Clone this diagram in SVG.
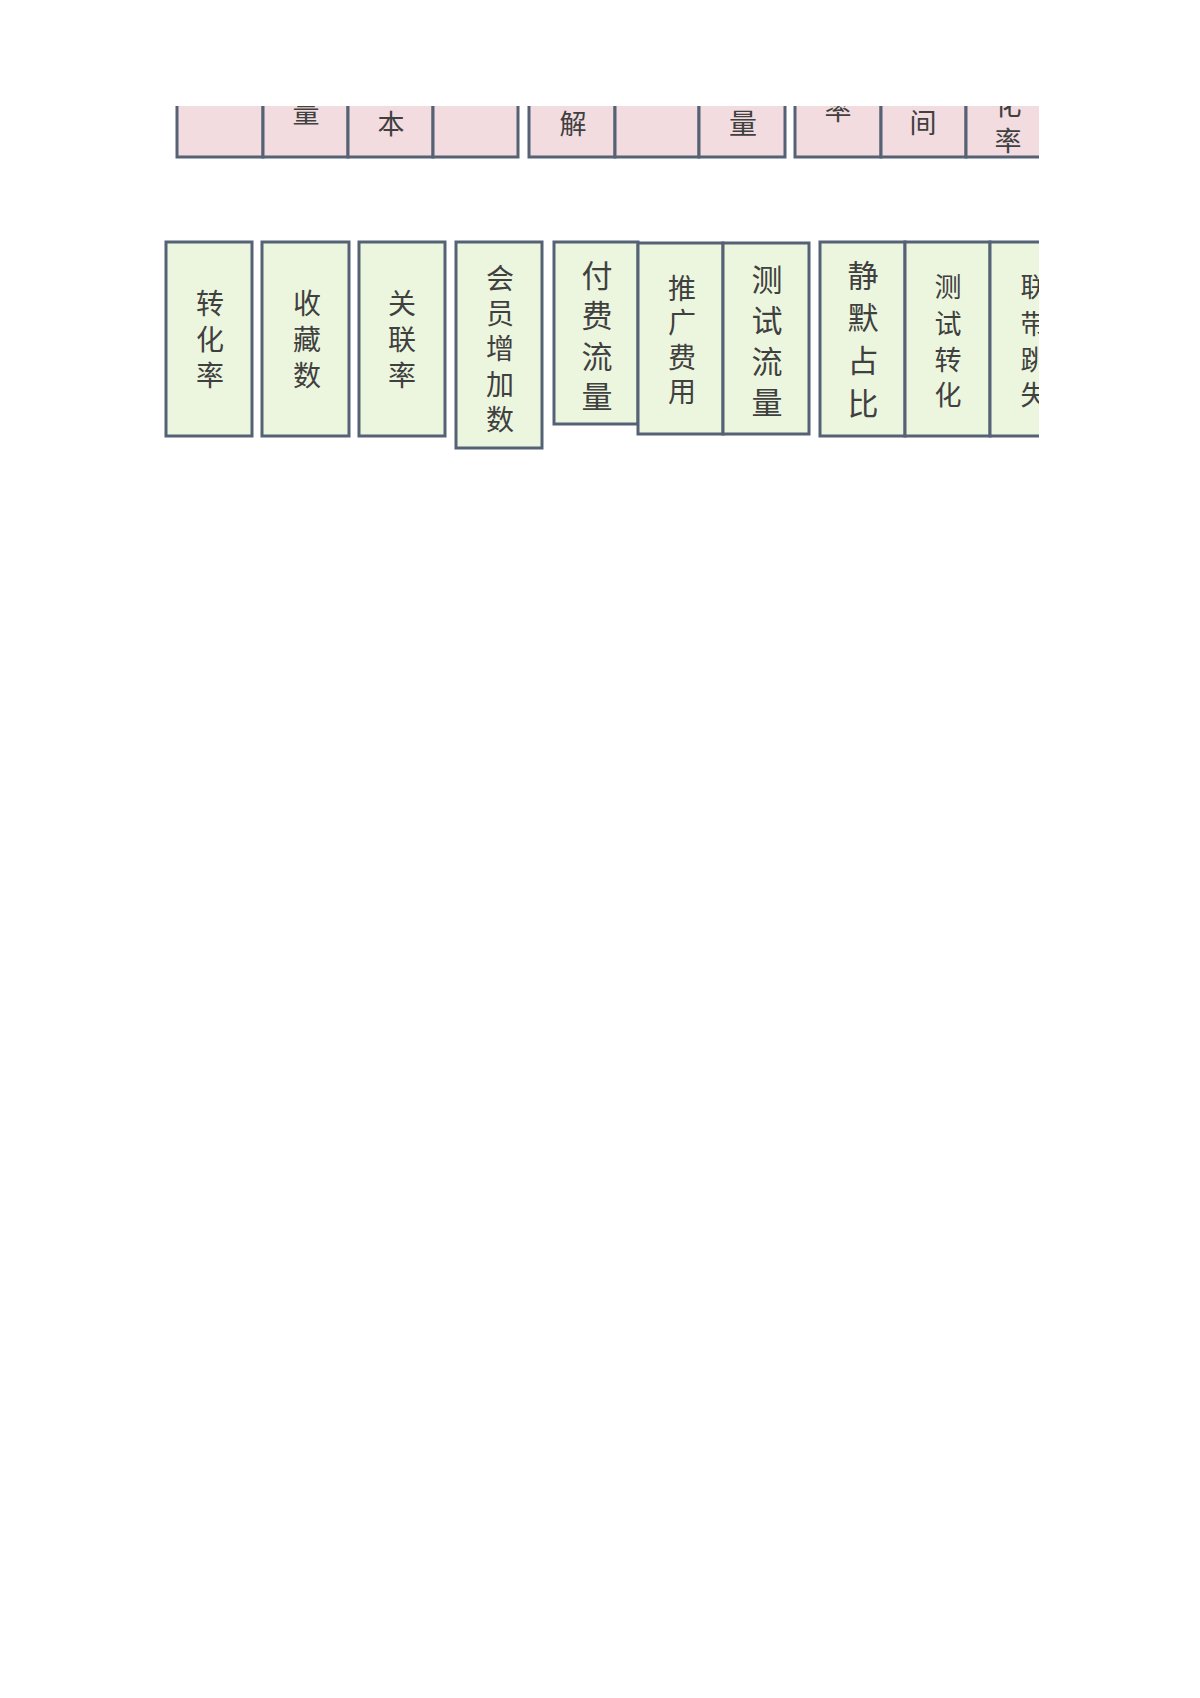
<svg xmlns="http://www.w3.org/2000/svg" width="1200" height="1698" viewBox="0 0 1200 1698">
<defs>
<clipPath id="crop"><rect x="0" y="106" width="1039" height="1592"/></clipPath>
<style>
.top{fill:#f2dcdf;stroke:#556275;stroke-width:3}
.bot{fill:#ecf6de;stroke:#556275;stroke-width:3}
.t{font-family:"Noto Sans CJK SC","Noto Sans CJK TC",sans-serif;fill:#404040;text-anchor:middle;dominant-baseline:central}
</style>
</defs>
<rect width="1200" height="1698" fill="#ffffff"/>
<g clip-path="url(#crop)">
<g id="top-row">
<g id="t1"><rect class="top" x="177" y="80" width="86" height="77"/></g>
<g id="t2"><rect class="top" x="263" y="80" width="85" height="77"/><text class="t" x="306" y="111" font-size="27">量</text></g>
<g id="t3"><rect class="top" x="348" y="80" width="85" height="77"/><text class="t" x="391" y="122" font-size="27">本</text></g>
<g id="t4"><rect class="top" x="433" y="80" width="85" height="77"/></g>
<g id="t5"><rect class="top" x="529" y="80" width="86" height="77"/><text class="t" x="573" y="122" font-size="27">解</text></g>
<g id="t6"><rect class="top" x="615" y="80" width="84" height="77"/></g>
<g id="t7"><rect class="top" x="699" y="80" width="86" height="77"/><text class="t" x="743" y="122" font-size="28">量</text></g>
<g id="t8"><rect class="top" x="795" y="80" width="86" height="77"/><text class="t" x="838" y="108" font-size="27">率</text></g>
<g id="t9"><rect class="top" x="881" y="80" width="85" height="77"/><text class="t" x="923" y="121" font-size="27">间</text></g>
<g id="t10"><rect class="top" x="966" y="80" width="86" height="77"/><text class="t" x="1008" y="103" font-size="27">化</text><text class="t" x="1008" y="139" font-size="27">率</text></g>
</g>
<g id="bottom-row">
<g id="b1"><rect class="bot" x="166" y="242" width="86" height="194"/><text class="t" font-size="28"><tspan x="210" y="302">转</tspan><tspan x="210" y="338">化</tspan><tspan x="210" y="374">率</tspan></text></g>
<g id="b2"><rect class="bot" x="262" y="242" width="87" height="194"/><text class="t" font-size="28"><tspan x="307" y="302">收</tspan><tspan x="307" y="338">藏</tspan><tspan x="307" y="374">数</tspan></text></g>
<g id="b3"><rect class="bot" x="359" y="242" width="86" height="194"/><text class="t" font-size="28"><tspan x="402" y="302">关</tspan><tspan x="402" y="338">联</tspan><tspan x="402" y="374">率</tspan></text></g>
<g id="b4"><rect class="bot" x="456" y="242" width="86" height="206"/><text class="t" font-size="28"><tspan x="500" y="277">会</tspan><tspan x="500" y="312">员</tspan><tspan x="500" y="347">增</tspan><tspan x="500" y="383">加</tspan><tspan x="500" y="418">数</tspan></text></g>
<g id="b5"><rect class="bot" x="554" y="242" width="84" height="182"/><text class="t" font-size="31"><tspan x="597" y="273">付</tspan><tspan x="597" y="313">费</tspan><tspan x="597" y="354">流</tspan><tspan x="597" y="394">量</tspan></text></g>
<g id="b6"><rect class="bot" x="638" y="243" width="85" height="191"/><text class="t" font-size="28"><tspan x="682" y="287">推</tspan><tspan x="682" y="321">广</tspan><tspan x="682" y="356">费</tspan><tspan x="682" y="390">用</tspan></text></g>
<g id="b7"><rect class="bot" x="723" y="243" width="86" height="191"/><text class="t" font-size="31"><tspan x="767" y="277">测</tspan><tspan x="767" y="318">试</tspan><tspan x="767" y="359">流</tspan><tspan x="767" y="400">量</tspan></text></g>
<g id="b8"><rect class="bot" x="820" y="242" width="85" height="194"/><text class="t" font-size="31"><tspan x="863" y="273">静</tspan><tspan x="863" y="315">默</tspan><tspan x="863" y="358">占</tspan><tspan x="863" y="401">比</tspan></text></g>
<g id="b9"><rect class="bot" x="905" y="242" width="85" height="194"/><text class="t" font-size="27"><tspan x="948" y="285">测</tspan><tspan x="948" y="322">试</tspan><tspan x="948" y="358">转</tspan><tspan x="948" y="393">化</tspan></text></g>
<g id="b10"><rect class="bot" x="990" y="242" width="85" height="194"/><text class="t" font-size="27"><tspan x="1034" y="285">联</tspan><tspan x="1034" y="322">带</tspan><tspan x="1034" y="358">跳</tspan><tspan x="1034" y="393">失</tspan></text></g>
</g>
</g>
</svg>
